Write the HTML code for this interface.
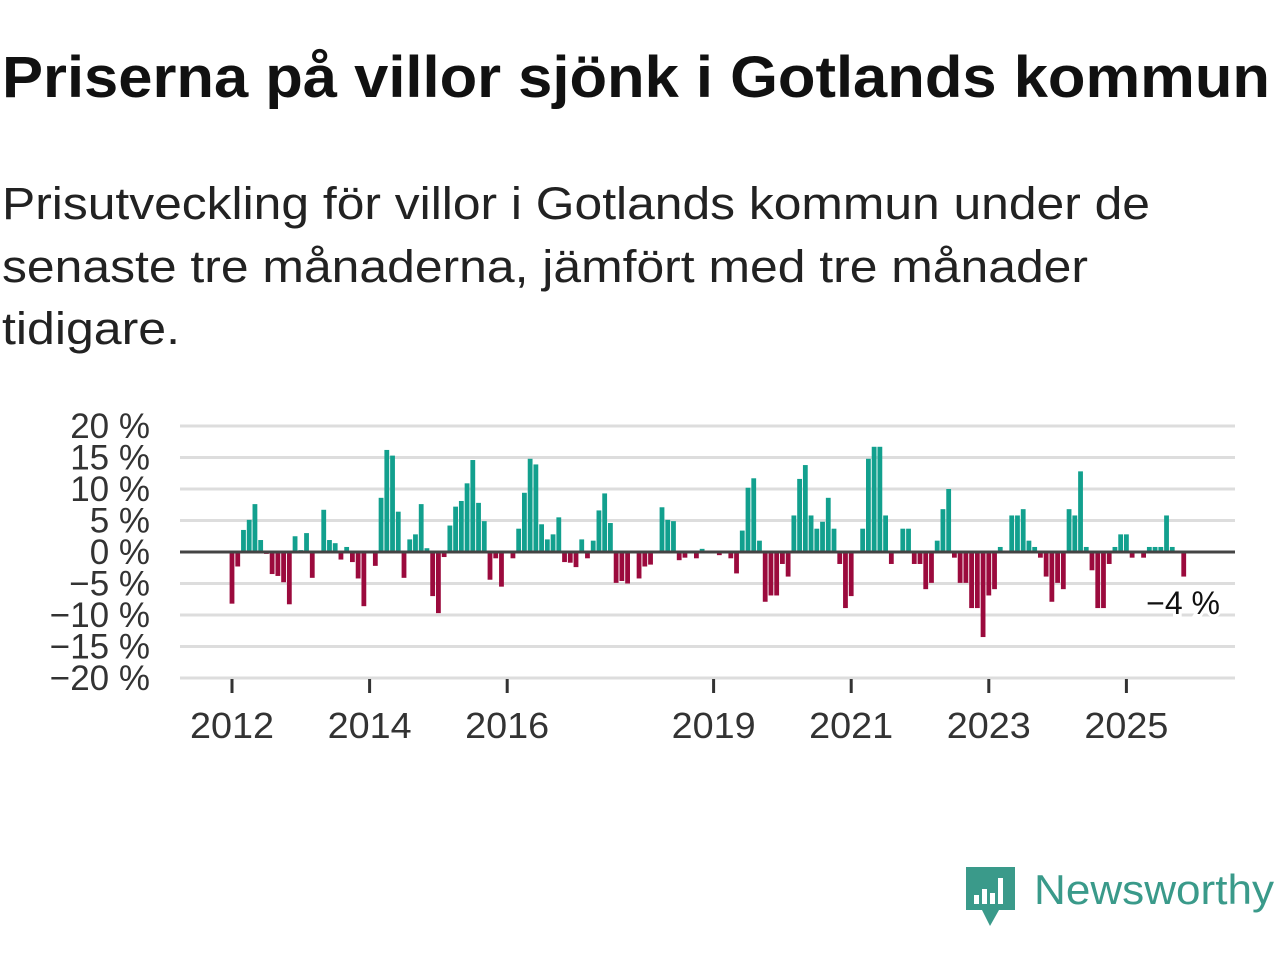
<!DOCTYPE html>
<html><head><meta charset="utf-8"><style>
body{margin:0;width:1280px;height:960px;background:#fff;font-family:"Liberation Sans","DejaVu Sans",sans-serif;overflow:hidden;position:relative}
svg{position:absolute;left:0;top:0}
</style></head><body>
<svg width="1280" height="400" font-family="Liberation Sans, DejaVu Sans, sans-serif">
<text x="2" y="97" font-size="58" font-weight="bold" fill="#111" textLength="1268" lengthAdjust="spacingAndGlyphs">Priserna på villor sjönk i Gotlands kommun</text>
<text x="2" y="219" font-size="45" fill="#222" textLength="1148" lengthAdjust="spacingAndGlyphs">Prisutveckling för villor i Gotlands kommun under de</text>
<text x="2" y="282" font-size="45" fill="#222" textLength="1086" lengthAdjust="spacingAndGlyphs">senaste tre månaderna, jämfört med tre månader</text>
<text x="2" y="344" font-size="45" fill="#222" textLength="178" lengthAdjust="spacingAndGlyphs">tidigare.</text>
</svg>
<svg id="chart" width="1280" height="960" font-family="Liberation Sans, DejaVu Sans, sans-serif"></svg>
<svg width="1280" height="960" style="pointer-events:none">
<path d="M966 867 H1015 V910 H999 L990 926 L982 910 H966 Z" fill="#3a9a8a"/>
<rect x="974" y="895" width="5" height="9" fill="#fff"/><rect x="982" y="889" width="5" height="15" fill="#fff"/><rect x="990" y="893" width="5" height="11" fill="#fff"/><rect x="998" y="878" width="5" height="26" fill="#fff"/>
<text x="1034" y="904" font-size="42" fill="#3a9a8a" textLength="240" lengthAdjust="spacingAndGlyphs" font-family="Liberation Sans, DejaVu Sans, sans-serif">Newsworthy</text>
</svg>
<script>
const values = [-8.2,-2.3,3.5,5.1,7.6,1.9,-0.3,-3.5,-3.8,-4.8,-8.3,2.5,0.3,3,-4.1,0.2,6.7,1.9,1.4,-1.2,0.8,-1.6,-4.2,-8.6,0,-2.2,8.6,16.2,15.3,6.4,-4.1,2,2.8,7.6,0.6,-7,-9.7,-0.8,4.2,7.2,8.1,10.9,14.6,7.8,4.9,-4.4,-1,-5.5,0,-1,3.7,9.4,14.8,13.9,4.4,2,2.8,5.5,-1.6,-1.7,-2.4,2,-1,1.8,6.6,9.3,4.6,-4.9,-4.6,-5,0.2,-4.2,-2.3,-2,0,7.1,5.1,4.9,-1.3,-0.9,0,-1,0.5,0,0,-0.5,0,-1,-3.4,3.4,10.2,11.7,1.8,-7.9,-6.9,-6.9,-1.9,-3.9,5.8,11.6,13.8,5.8,3.7,4.8,8.6,3.7,-1.9,-8.9,-7,0,3.7,14.8,16.7,16.7,5.8,-1.9,0,3.7,3.7,-1.9,-1.9,-5.9,-4.9,1.8,6.8,10,-0.9,-4.9,-4.9,-8.9,-8.9,-13.5,-6.9,-5.9,0.8,0,5.8,5.8,6.8,1.8,0.8,-0.9,-3.9,-7.9,-4.9,-5.9,6.8,5.8,12.8,0.8,-2.9,-8.9,-8.9,-1.9,0.8,2.8,2.8,-0.9,0,-0.9,0.8,0.8,0.8,5.8,0.8,0,-3.9];
const yTicks = [20,15,10,5,0,-5,-10,-15,-20];
const yTickLabels = ["20 %","15 %","10 %","5 %","0 %","−5 %","−10 %","−15 %","−20 %"];
const xTickYears = [2012,2014,2016,2019,2021,2023,2025];
const lastLabel = "−4 %";
const svg=document.getElementById('chart');const NS='http://www.w3.org/2000/svg';
const X0=232, MW=68.8/12; const y=v=>552-v*6.3; const x=i=>X0+i*MW;
function mk(t,a){const e=document.createElementNS(NS,t);for(const k in a)e.setAttribute(k,a[k]);svg.appendChild(e);return e;}
yTicks.forEach((t,k)=>{
 if(t!==0){const g=mk('line',{x1:180,x2:1235,y1:y(t),y2:y(t),stroke:'#ddd','stroke-width':3});
 
 }
 const l=mk('text',{x:150,y:y(t)+12,'text-anchor':'end','font-size':35,fill:'#333'});l.textContent=yTickLabels[k];
 
 
});
xTickYears.forEach(yr=>{const px=x((yr-2012)*12);
 const t=mk('line',{x1:px,x2:px,y1:679,y2:693,stroke:'#333','stroke-width':3});
 
 
 const l=mk('text',{x:px,y:738,'text-anchor':'middle','font-size':36,fill:'#333',textLength:84,lengthAdjust:'spacingAndGlyphs'});l.textContent=yr;
 
 
});
values.forEach((v,i)=>{if(v===0)return;const top=Math.min(y(v),y(0));
 const b=mk('rect',{x:x(i)-2.4,y:top,width:4.8,height:Math.abs(y(v)-y(0)),fill:v>0?'#12a08e':'#9b0a3d'});
 
 
});
const z=mk('line',{x1:180,x2:1235,y1:y(0),y2:y(0),stroke:'#444','stroke-width':3});


const ll=mk('text',{x:1220,y:614,'text-anchor':'end','font-size':32,fill:'#111',stroke:'#fff','stroke-width':6,'paint-order':'stroke'});ll.textContent=lastLabel;


</script>
</body></html>
